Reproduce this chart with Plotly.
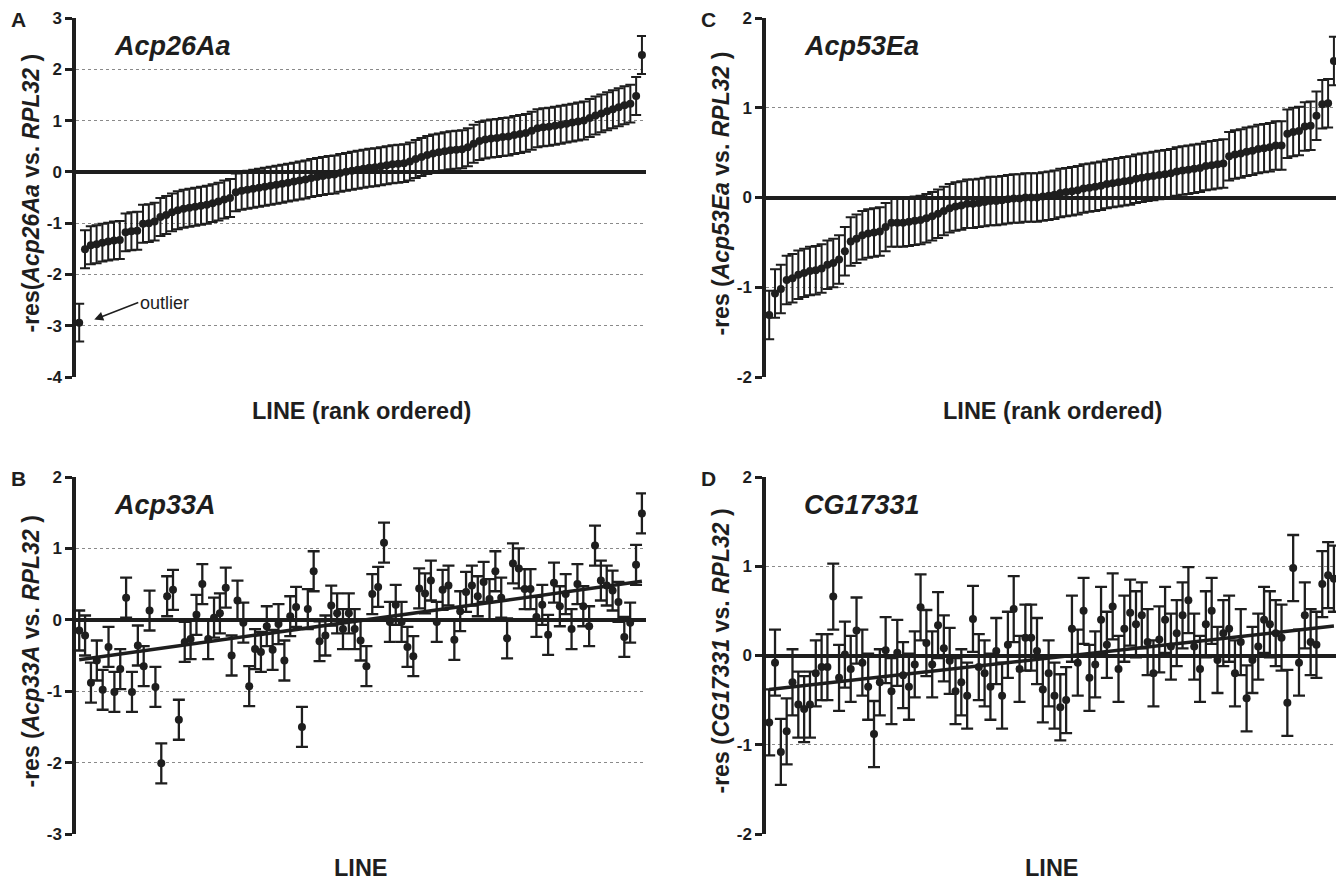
import plotly.graph_objects as go

# ---------------- data ----------------
# Panel A: Acp26Aa (rank ordered), index 0 is the outlier
vals_a = [-2.94,
          -1.51, -1.43, -1.41, -1.38, -1.36, -1.34, -1.33, -1.18, -1.16, -1.15,
          -1.01, -1.00, -0.97, -0.88, -0.84, -0.79, -0.75, -0.72, -0.70, -0.68,
          -0.66, -0.64, -0.61, -0.58, -0.54, -0.51,
          -0.40, -0.37, -0.35, -0.33, -0.31, -0.29, -0.27, -0.25, -0.23, -0.21,
          -0.19, -0.17, -0.15, -0.12, -0.10, -0.08,
          -0.06, -0.05, -0.02, 0.00, 0.02, 0.04, 0.06, 0.08, 0.09, 0.11,
          0.13, 0.15, 0.16, 0.17, 0.20, 0.25, 0.29, 0.33, 0.36, 0.38,
          0.40, 0.42, 0.43, 0.44, 0.48, 0.55, 0.60, 0.63, 0.65, 0.66,
          0.68, 0.69, 0.72, 0.74, 0.76, 0.80, 0.85, 0.87, 0.88, 0.90,
          0.92, 0.94, 0.96, 0.98, 1.00, 1.05, 1.10, 1.14, 1.18, 1.22,
          1.26, 1.30, 1.33, 1.48, 2.28]
err_a = 0.37

# Panel C: Acp53Ea (rank ordered)
vals_c = [-1.31, -1.07, -1.02, -0.92, -0.90, -0.86, -0.84, -0.82, -0.81, -0.79,
          -0.75, -0.73, -0.69, -0.60, -0.49, -0.46, -0.42, -0.40, -0.39, -0.38,
          -0.33, -0.28, -0.28, -0.28, -0.27, -0.26, -0.25, -0.23, -0.21, -0.18,
          -0.15, -0.12, -0.10, -0.09, -0.07, -0.07, -0.06, -0.05, -0.04, -0.04,
          -0.03, -0.02, -0.01, -0.01, 0.00,
          0.00, 0.00, 0.01, 0.02, 0.03, 0.05, 0.06, 0.07, 0.08, 0.10,
          0.11, 0.12, 0.13, 0.15, 0.16, 0.17, 0.18, 0.19, 0.21, 0.22,
          0.23, 0.24, 0.25, 0.26, 0.27, 0.29, 0.30, 0.31, 0.32, 0.33,
          0.35, 0.36, 0.37, 0.38, 0.46, 0.48, 0.49, 0.51, 0.52, 0.54,
          0.55, 0.56, 0.58, 0.58, 0.71, 0.73, 0.74, 0.79, 0.80, 0.91,
          1.04, 1.05, 1.52]
err_c = 0.27

# Panel B: Acp33A (line order)
vals_b = [-0.15, -0.22, -0.88, -0.57, -0.98, -0.38, -1.01, -0.69, 0.31, -1.01,
          -0.36, -0.65, 0.13, -0.94, -2.01, 0.33, 0.42, -1.40, -0.31, -0.27,
          0.07, 0.50, -0.27, 0.03, 0.09, 0.45, -0.50, 0.27, -0.04, -0.93,
          -0.41, -0.45, -0.09, -0.42, -0.06, -0.57, 0.05, 0.18, -1.50, 0.15,
          0.68, -0.30, -0.22, 0.20, 0.09, -0.13, 0.09, -0.13, -0.29, -0.65,
          0.36, 0.46, 1.08, -0.03, 0.21, -0.03, -0.38, -0.51, 0.44, 0.37,
          0.55, -0.03, 0.42, 0.48, -0.28, 0.12, 0.39, 0.48, 0.33, 0.53,
          0.29, 0.68, 0.31, -0.26, 0.79, 0.72, 0.43, 0.43, 0.04, 0.21,
          -0.21, 0.52, 0.19, 0.36, -0.13, 0.50, 0.19, -0.09, 1.04, 0.55,
          0.48, 0.41, 0.25, -0.24, -0.04, 0.77, 1.49]
err_b = 0.28
trend_b = [-0.56, 0.54]

# Panel D: CG17331 (line order)
vals_d = [-0.75, -0.08, -1.08, -0.85, -0.30, -0.55, -0.60, -0.55, -0.20, -0.13,
          -0.13, 0.66, -0.25, 0.01, -0.15, 0.28, -0.08, -0.35, -0.88, -0.30,
          0.06, -0.40, 0.03, -0.22, -0.35, -0.10, 0.54, 0.14, -0.10, 0.34,
          0.08, -0.06, -0.40, -0.30, -0.45, 0.41, -0.13, -0.20, -0.35, 0.05,
          -0.45, 0.12, 0.52, -0.15, 0.20, 0.20, 0.05, -0.38, -0.20, -0.45,
          -0.58, -0.50, 0.30, -0.08, 0.50, -0.25, -0.10, 0.40, 0.12, 0.55,
          -0.15, 0.30, 0.48, 0.35, 0.45, 0.15, -0.20, 0.18, 0.40, 0.10,
          0.25, 0.45, 0.62, 0.10, -0.15, 0.35, 0.50, -0.05, 0.25, 0.30,
          -0.20, 0.15, -0.48, -0.05, 0.10, 0.40, 0.35, 0.25, 0.20, -0.53,
          0.98, -0.08, 0.45, 0.15, 0.12, 0.80, 0.90, 0.86]
err_d = 0.37
trend_d = [-0.38, 0.33]

genes = ["Acp26Aa", "Acp53Ea", "Acp33A", "CG17331"]
letters = ["A", "C", "B", "D"]
ytitles = ["-res(<i>Acp26Aa</i> vs. <i>RPL32</i> )",
           "-res (<i>Acp53Ea</i> vs. <i>RPL32</i> )",
           "-res (<i>Acp33A</i> vs. <i>RPL32</i> )",
           "-res (<i>CG17331</i> vs. <i>RPL32</i> )"]
xtitles = ["LINE (rank ordered)", "LINE (rank ordered)", "LINE", "LINE"]
yticks = [[-4, -3, -2, -1, 0, 1, 2, 3], [-2, -1, 0, 1, 2],
          [-3, -2, -1, 0, 1, 2], [-2, -1, 0, 1, 2]]

# ---------------- layout helpers ----------------
# the page body keeps its default 8px margin, so the figure is drawn
# 8px smaller and every target pixel is shifted by that amount
PAGE_W, PAGE_H, OFF = 1344, 882, 8
W, H = PAGE_W - OFF, PAGE_H - OFF
INK = "#1e1e1e"
FONT = "Liberation Sans, Arial, sans-serif"


def px(x):
    return (x - OFF) / W


def py(y):
    return 1 - (y - OFF) / H


# pixel boxes (left, right, top, bottom) of each plotting area on the page
boxes = [(76, 646, 18, 377), (766, 1338, 18, 377),
         (76, 646, 477, 834), (766, 1338, 477, 834)]

panels = [(vals_a, err_a, None), (vals_c, err_c, None),
          (vals_b, err_b, trend_b), (vals_d, err_d, trend_d)]

fig = go.Figure()
annotations = []
layout = {}

for k, ((vals, err, trend), box) in enumerate(zip(panels, boxes)):
    sfx = "" if k == 0 else str(k + 1)
    xa, ya = "x" + sfx, "y" + sfx
    n = len(vals)
    xs = list(range(n))
    if trend is not None:
        fig.add_trace(go.Scatter(x=[0, n - 1], y=trend, mode="lines",
                                 line=dict(color=INK, width=3.5),
                                 xaxis=xa, yaxis=ya, showlegend=False,
                                 hoverinfo="skip", cliponaxis=False))
    fig.add_trace(go.Scatter(
        x=xs, y=vals, mode="markers",
        marker=dict(color=INK, size=8),
        error_y=dict(type="constant", value=err, color=INK,
                     thickness=2 if trend is None else 2.3,
                     width=5 if trend is None else 6),
        xaxis=xa, yaxis=ya, showlegend=False, cliponaxis=False))

    l, r, t, b = box
    yt = yticks[k]
    layout["xaxis" + sfx] = dict(
        domain=[px(l), px(r)], range=[-0.55, n - 0.3], anchor=ya,
        showgrid=False, zeroline=False, showline=False, automargin=False,
        showticklabels=False, ticks="")
    layout["yaxis" + sfx] = dict(
        domain=[py(b), py(t)], range=[yt[0], yt[-1]], anchor=xa,
        tickvals=yt, ticktext=["<b>%d</b>" % v for v in yt],
        tickfont=dict(family=FONT, size=17, color=INK),
        ticks="outside", ticklen=7, tickwidth=2.5, tickcolor=INK,
        showline=True, linewidth=3.5, linecolor=INK, automargin=False,
        showgrid=True, gridcolor="#8a8a8a", gridwidth=1,
        griddash="3px,3px",
        zeroline=True, zerolinecolor=INK, zerolinewidth=3.5)

    # gene name
    annotations.append(dict(
        text="<b><i>%s</i></b>" % genes[k], xref="paper", yref="paper",
        x=px(l + 36), y=py(t + 28), xanchor="left", yanchor="middle",
        showarrow=False, font=dict(family=FONT, size=27, color=INK)))
    # panel letter
    annotations.append(dict(
        text="<b>%s</b>" % letters[k], xref="paper", yref="paper",
        x=px(l - 58), y=py(t + 1), xanchor="center", yanchor="middle",
        showarrow=False, font=dict(family=FONT, size=21, color=INK)))
    # x title
    annotations.append(dict(
        text="<b>%s</b>" % xtitles[k], xref="paper", yref="paper",
        x=px((l + r) / 2), y=py(b + 34), xanchor="center",
        yanchor="middle", showarrow=False,
        font=dict(family=FONT, size=23.5, color=INK)))
    # y title
    annotations.append(dict(
        text="<b>%s</b>" % ytitles[k], xref="paper", yref="paper",
        x=px(l - 46), y=py((t + b) / 2 - 4), xanchor="center",
        yanchor="middle", textangle=-90, showarrow=False,
        font=dict(family=FONT, size=23, color=INK)))

# outlier label (panel A)
annotations.append(dict(
    text="outlier", x=2.6, y=-2.88, xref="x", yref="y",
    ax=44, ay=-17, axref="pixel", ayref="pixel", xanchor="left",
    showarrow=True, arrowhead=2, arrowsize=1.2, arrowwidth=1.5,
    arrowcolor=INK, font=dict(family=FONT, size=18, color=INK)))

fig.update_layout(
    template="none",
    width=W, height=H, margin=dict(l=0, r=0, t=0, b=0, autoexpand=False),
    plot_bgcolor="white", paper_bgcolor="white",
    annotations=annotations, **layout)

fig.write_html("out.html")
